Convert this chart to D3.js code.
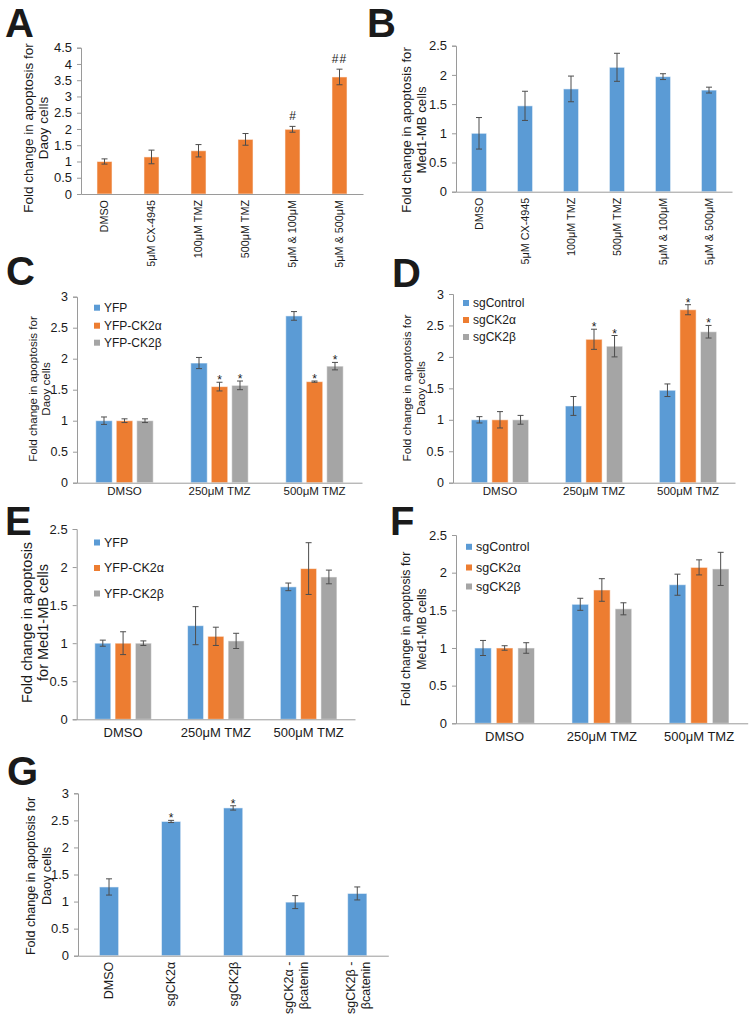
<!DOCTYPE html>
<html><head><meta charset="utf-8">
<script src="https://cdn.jsdelivr.net/npm/d3@7"></script>
<style>
body{margin:0;background:#fff}
svg{display:block}
text{font-family:"Liberation Sans",Arial,Helvetica,sans-serif;fill:#1a1a1a}
</style>
</head><body>
<svg id="fig" width="756" height="1016"></svg>
<script>
// ---------------- DATA ----------------
const drugCategories = ["DMSO", "5μM CX-4945", "100μM TMZ", "500μM TMZ", "5μM  & 100μM", "5μM  & 500μM"];
const daoyDrugValues = [1.00, 1.14, 1.33, 1.68, 1.99, 3.60];
const daoyDrugErrors = [0.08, 0.21, 0.19, 0.18, 0.09, 0.24];
const daoyDrugMarks = ["", "", "", "", "#", "##"];
const medDrugValues = [1.00, 1.47, 1.76, 2.13, 1.97, 1.74];
const medDrugErrors = [0.27, 0.25, 0.22, 0.24, 0.05, 0.05];

const tmzCategories = ["DMSO", "250μM TMZ", "500μM TMZ"];
const yfpSeries = ["YFP", "YFP-CK2α", "YFP-CK2β"];
const sgSeries = ["sgControl", "sgCK2α", "sgCK2β"];

// values per series, per category
const daoyYfpValues = [[1.00, 1.93, 2.69], [1.00, 1.55, 1.63], [1.00, 1.57, 1.88]];
const daoyYfpErrors = [[0.06, 0.09, 0.07], [0.03, 0.07, 0.01], [0.03, 0.07, 0.06]];
const daoyYfpMarks = [["", "", ""], ["", "*", "*"], ["", "*", "*"]];

const daoySgValues = [[1.00, 1.22, 1.47], [1.00, 2.28, 2.75], [1.00, 2.17, 2.40]];
const daoySgErrors = [[0.05, 0.15, 0.10], [0.13, 0.16, 0.08], [0.07, 0.17, 0.10]];
const daoySgMarks = [["", "", ""], ["", "*", "*"], ["", "*", "*"]];

const medYfpValues = [[1.00, 1.23, 1.74], [1.00, 1.09, 1.98], [1.00, 1.03, 1.87]];
const medYfpErrors = [[0.04, 0.25, 0.05], [0.15, 0.12, 0.34], [0.03, 0.10, 0.09]];

const medSgValues = [[1.00, 1.58, 1.84], [1.00, 1.77, 2.07], [1.00, 1.52, 2.05]];
const medSgErrors = [[0.10, 0.08, 0.14], [0.03, 0.15, 0.10], [0.07, 0.08, 0.22]];

const cateninCategories = ["DMSO", "sgCK2α", "sgCK2β", "sgCK2α -|βcatenin", "sgCK2β -|βcatenin"];
const cateninValues = [1.27, 2.48, 2.73, 0.99, 1.15];
const cateninErrors = [0.15, 0.02, 0.04, 0.12, 0.12];
const cateninMarks = ["", "*", "*", "", ""];

const ticks45 = [0, 0.5, 1, 1.5, 2, 2.5, 3, 3.5, 4, 4.5];
const tickLabels45 = ["0", "0.5", "1", "1.5", "2", "2.5", "3", "3.5", "4", "4.5"];
const ticks30 = [0, 0.5, 1, 1.5, 2, 2.5, 3];
const tickLabels30 = ["0", "0.5", "1", "1.5", "2", "2.5", "3"];
const ticks25 = [0, 0.5, 1, 1.5, 2, 2.5];
const tickLabels25 = ["0", "0.5", "1", "1.5", "2", "2.5"];

const colors = ["#5B9BD5", "#ED7D31", "#A5A5A5"];

// ---------------- DRAW ----------------
const svg = d3.select("#fig");

function drawPanel(p) {
  const g = svg.append("g");
  const y = d3.scaleLinear().domain([0, p.ymax]).range([p.y0, p.yTop]);
  const x = d3.scaleBand().domain(p.categories).range([p.x0, p.x1])
    .paddingInner(p.pad).paddingOuter(p.pad / 2);
  const multi = Array.isArray(p.values[0]);
  const values = multi ? p.values : [p.values];
  const errors = multi ? p.errors : [p.errors];
  const marks = p.marks ? (multi ? p.marks : [p.marks]) : null;
  const seriesIdx = values.map((d, i) => i);
  const xs = d3.scaleBand().domain(seriesIdx).range([0, x.bandwidth()]).paddingInner(multi ? p.subPad : 0);

  // y axis
  const ya = g.append("g").attr("transform", `translate(${p.x0},0)`)
    .call(d3.axisLeft(y).tickValues(p.ticks).tickFormat((d, i) => p.tickLabels[i]).tickSize(4).tickPadding(5));
  ya.select(".domain").attr("stroke", "#9a9a9a");
  ya.selectAll(".tick line").attr("stroke", "#9a9a9a");
  ya.selectAll(".tick text").attr("font-size", p.tickFont).attr("fill", "#1a1a1a")
    .style("font-family", "'Liberation Sans',Arial,sans-serif");

  // bars
  values.forEach((vals, s) => {
    const col = multi ? colors[s] : p.color;
    const data = vals.map((v, i) => ({cat: p.categories[i], v, e: errors[s][i], m: marks ? marks[s][i] : ""}));
    const bx = d => x(d.cat) + xs(s);
    const bw = xs.bandwidth();
    g.append("g").selectAll("rect").data(data).join("rect")
      .attr("x", bx).attr("width", bw)
      .attr("y", d => y(d.v)).attr("height", d => y(0) - y(d.v))
      .attr("fill", col).attr("stroke", "#ffffff").attr("stroke-opacity", 0.55).attr("stroke-width", 1);
    const eg = g.append("g").attr("stroke", "#4d4d4d").attr("stroke-width", 1);
    data.forEach(d => {
      const cx = bx(d) + bw / 2;
      eg.append("line").attr("x1", cx).attr("x2", cx).attr("y1", y(d.v - d.e)).attr("y2", y(d.v + d.e));
      eg.append("line").attr("x1", cx - 3).attr("x2", cx + 3).attr("y1", y(d.v - d.e)).attr("y2", y(d.v - d.e));
      eg.append("line").attr("x1", cx - 3).attr("x2", cx + 3).attr("y1", y(d.v + d.e)).attr("y2", y(d.v + d.e));
      if (d.m) {
        g.append("text").attr("x", cx).attr("y", y(d.v + d.e) + (d.m === "*" ? 2 : -6))
          .attr("text-anchor", "middle").attr("font-size", 12)
          .attr("letter-spacing", d.m.length > 1 ? 1 : 0)
          .text(d.m);
      }
    });
  });

  // x axis
  const xa = g.append("g").attr("transform", `translate(0,${p.y0})`)
    .call(d3.axisBottom(x).tickSize(0).tickPadding(p.rotate ? 6 : p.xPad));
  xa.select(".domain").attr("stroke", "#9a9a9a");
  xa.selectAll(".tick text").attr("font-size", p.xFont).attr("fill", "#1a1a1a")
    .style("font-family", "'Liberation Sans',Arial,sans-serif");
  if (p.rotate) {
    xa.selectAll(".tick text").each(function(d) {
      const t = d3.select(this);
      const lines = String(d).split("|");
      t.text(null).attr("transform", "rotate(-90)").attr("text-anchor", "end")
        .attr("x", -6).attr("y", 0).attr("dy", null);
      lines.forEach((ln, k) => {
        const off = lines.length === 1 ? 0 : (k === 0 ? -7 : 8);
        t.append("tspan").attr("x", -6).attr("y", off).attr("dy", "0.35em").text(ln);
      });
    });
  }

  // y label
  p.ylab.forEach((ln, k) => {
    g.append("text").attr("transform", `translate(${p.ylabX[k]},${p.ylabY}) rotate(-90)`)
      .attr("text-anchor", "middle").attr("dominant-baseline", "central")
      .attr("font-size", p.ylabFont).text(ln);
  });

  // legend
  if (p.legend) {
    p.legend.forEach((name, k) => {
      g.append("rect").attr("x", p.legX - 3).attr("y", p.legY[k] - 3).attr("width", 6).attr("height", 6).attr("fill", colors[k]);
      g.append("text").attr("x", p.legX + 7).attr("y", p.legY[k]).attr("dominant-baseline", "central")
        .attr("font-size", p.legFont).text(name);
    });
  }

  // panel letter
  svg.append("text").attr("x", p.letterX).attr("y", p.letterY).attr("font-size", 40)
    .attr("font-weight", "bold").attr("fill", "#000").text(p.letter);
}

drawPanel({letter: "A", letterX: 5, letterY: 37,
  categories: drugCategories, values: daoyDrugValues, errors: daoyDrugErrors, marks: daoyDrugMarks,
  color: colors[1], x0: 81, x1: 363, y0: 194, yTop: 47.7, ymax: 4.5, ticks: ticks45, tickLabels: tickLabels45,
  pad: 0.68, tickFont: 13, xFont: 10.8, rotate: true,
  ylab: ["Fold change in apoptosis for", "Daoy cells"], ylabX: [28, 43], ylabY: 128, ylabFont: 13.5});

drawPanel({letter: "B", letterX: 367, letterY: 37,
  categories: drugCategories, values: medDrugValues, errors: medDrugErrors,
  color: colors[0], x0: 456, x1: 732, y0: 191.7, yTop: 45.7, ymax: 2.5, ticks: ticks25, tickLabels: tickLabels25,
  pad: 0.67, tickFont: 13, xFont: 10.8, rotate: true,
  ylab: ["Fold change in apoptosis for", "Med1-MB cells"], ylabX: [406, 421], ylabY: 130, ylabFont: 13.2});

drawPanel({letter: "C", letterX: 6, letterY: 285,
  categories: tmzCategories, values: daoyYfpValues, errors: daoyYfpErrors, marks: daoyYfpMarks,
  x0: 77, x1: 362, y0: 482.7, yTop: 296.7, ymax: 3, ticks: ticks30, tickLabels: tickLabels30,
  pad: 0.395, subPad: 0.195, tickFont: 12.5, xFont: 11.5, xPad: 4,
  ylab: ["Fold change in apoptosis for", "Daoy cells"], ylabX: [32, 45], ylabY: 389, ylabFont: 11.6,
  legend: yfpSeries, legX: 97, legY: [307.7, 325.7, 342.7], legFont: 12});

drawPanel({letter: "D", letterX: 392, letterY: 287,
  categories: tmzCategories, values: daoySgValues, errors: daoySgErrors, marks: daoySgMarks,
  x0: 453, x1: 735, y0: 482.7, yTop: 294, ymax: 3, ticks: ticks30, tickLabels: tickLabels30,
  pad: 0.39, subPad: 0.21, tickFont: 12.5, xFont: 11.5, xPad: 4,
  ylab: ["Fold change in apoptosis for", "Daoy cells"], ylabX: [406, 420], ylabY: 388, ylabFont: 11.7,
  legend: sgSeries, legX: 466, legY: [303, 320, 337], legFont: 12});

drawPanel({letter: "E", letterX: 5, letterY: 535,
  categories: tmzCategories, values: medYfpValues, errors: medYfpErrors,
  x0: 76.7, x1: 355, y0: 719.3, yTop: 529, ymax: 2.5, ticks: ticks25, tickLabels: tickLabels25,
  pad: 0.39, subPad: 0.21, tickFont: 13, xFont: 13, xPad: 8,
  ylab: ["Fold change in apoptosis", "for Med1-MB cells"], ylabX: [27, 43], ylabY: 622.5, ylabFont: 14.5,
  legend: yfpSeries, legX: 97, legY: [542.5, 568, 593.5], legFont: 12.5});

drawPanel({letter: "F", letterX: 390, letterY: 535,
  categories: tmzCategories, values: medSgValues, errors: medSgErrors,
  x0: 456, x1: 747.7, y0: 723.3, yTop: 535, ymax: 2.5, ticks: ticks25, tickLabels: tickLabels25,
  pad: 0.385, subPad: 0.23, tickFont: 13, xFont: 13, xPad: 8,
  ylab: ["Fold change in apoptosis for", "Med1-MB cells"], ylabX: [406, 422], ylabY: 629, ylabFont: 12.3,
  legend: sgSeries, legX: 469, legY: [546.8, 567.5, 586.5], legFont: 12.5});

drawPanel({letter: "G", letterX: 7, letterY: 785,
  categories: cateninCategories, values: cateninValues, errors: cateninErrors, marks: cateninMarks,
  color: colors[0], x0: 78, x1: 388.3, y0: 955.7, yTop: 793.3, ymax: 3, ticks: ticks30, tickLabels: tickLabels30,
  pad: 0.69, tickFont: 13, xFont: 12.5, rotate: true,
  ylab: ["Fold change in apoptosis for", "Daoy cells"], ylabX: [31, 46.7], ylabY: 876, ylabFont: 12.6});
</script>
</body></html>
